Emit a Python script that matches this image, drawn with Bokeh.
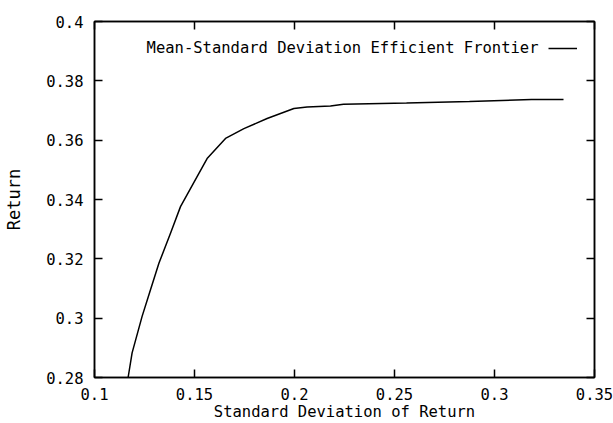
from bokeh.plotting import figure
from bokeh.models import (Range1d, LinearAxis, FixedTicker, Legend, LegendItem, Label,
                          ColumnDataSource)
from bokeh.core.properties import value
from bokeh.embed import file_html
from bokeh.resources import INLINE

# ---- data ----
std_dev = [0.1168, 0.1188, 0.1238, 0.1280, 0.1322, 0.1380, 0.1430, 0.1513, 0.1563,
           0.1655, 0.1747, 0.1863, 0.1997, 0.2063, 0.2180, 0.2245, 0.2560, 0.2875,
           0.3185, 0.3345]
ret = [0.2800, 0.2883, 0.3006, 0.3096, 0.3185, 0.3286, 0.3376, 0.3477, 0.3538,
       0.3606, 0.3639, 0.3673, 0.3707, 0.3712, 0.3715, 0.3721, 0.3725, 0.3730,
       0.3737, 0.3737]

x_ticks = [0.1, 0.15, 0.2, 0.25, 0.3, 0.35]
x_tick_labels = ["0.1", "0.15", "0.2", "0.25", "0.3", "0.35"]
y_ticks = [0.28, 0.3, 0.32, 0.34, 0.36, 0.38, 0.4]
y_tick_labels = ["0.28", "0.3", "0.32", "0.34", "0.36", "0.38", "0.4"]

series_label = "Mean-Standard Deviation Efficient Frontier"
x_title = "Standard Deviation of Return"
y_title = "Return"

FONT = "DejaVu Sans Mono"
FS = "15.5px"

p = figure(width=613, height=423, output_backend="svg", toolbar_location=None,
           x_range=Range1d(0.1, 0.35), y_range=Range1d(0.28, 0.4),
           x_axis_location=None, y_axis_location=None,
           min_border_left=94, min_border_right=19, min_border_top=21,
           min_border_bottom=45)
p.background_fill_color = "white"
p.border_fill_color = "white"
p.outline_line_color = "black"
p.outline_line_width = 1.5
p.xgrid.visible = False
p.ygrid.visible = False


def base_axis(ax):
    ax.axis_line_color = "black"
    ax.axis_line_width = 1.5
    ax.major_label_text_font = FONT
    ax.major_label_text_color = "black"
    ax.major_label_text_font_size = FS
    ax.axis_label_text_font = FONT
    ax.axis_label_text_font_style = "normal"
    ax.axis_label_text_color = "black"


def labelled_axis(ax, ticks, labels):
    base_axis(ax)
    ax.ticker = FixedTicker(ticks=ticks)
    ax.major_label_overrides = {t: l for t, l in zip(ticks, labels)}
    ax.major_tick_in = 8
    ax.major_tick_out = 0
    ax.major_tick_line_color = "black"
    ax.major_tick_line_width = 1.5
    ax.minor_tick_line_color = None


def mirror_axis(ax, ticks):
    # tick marks only (as minor ticks) so no tick labels are drawn
    base_axis(ax)
    ax.ticker = FixedTicker(ticks=[], minor_ticks=ticks)
    ax.major_tick_line_color = None
    ax.minor_tick_in = 8
    ax.minor_tick_out = 0
    ax.minor_tick_line_color = "black"
    ax.minor_tick_line_width = 1.5
    ax.major_label_standoff = 0


xb = LinearAxis(axis_label=x_title)
labelled_axis(xb, x_ticks, x_tick_labels)
xb.major_label_standoff = 10
xb.axis_label_standoff = 0
xb.axis_label_text_font_size = FS
p.add_layout(xb, "below")

yl = LinearAxis(axis_label=y_title)
labelled_axis(yl, y_ticks, y_tick_labels)
yl.major_label_standoff = 11
yl.axis_label_standoff = 19
yl.axis_label_text_font_size = "17px"
p.add_layout(yl, "left")

xt = LinearAxis()
mirror_axis(xt, x_ticks)
p.add_layout(xt, "above")

yr = LinearAxis()
mirror_axis(yr, y_ticks)
p.add_layout(yr, "right")

src = ColumnDataSource(dict(x=std_dev, y=ret))
r = p.line("x", "y", source=src, line_color="black", line_width=1.5)

# legend: text followed by the line sample
leg = Legend(items=[LegendItem(label=value(" "), renderers=[r])],
             location="top_right", margin=17, padding=0, spacing=0,
             glyph_width=29, glyph_height=20, label_standoff=0,
             label_width=0, label_height=20,
             label_text_font_size="1px", background_fill_alpha=0,
             border_line_color=None)
p.add_layout(leg)
p.add_layout(Label(x=0.322, y=0.3909, text=series_label, text_align="right",
                   text_baseline="middle", text_font=FONT,
                   text_font_size=FS, text_color="black"))

open("out.html", "w").write(file_html(p, INLINE))
